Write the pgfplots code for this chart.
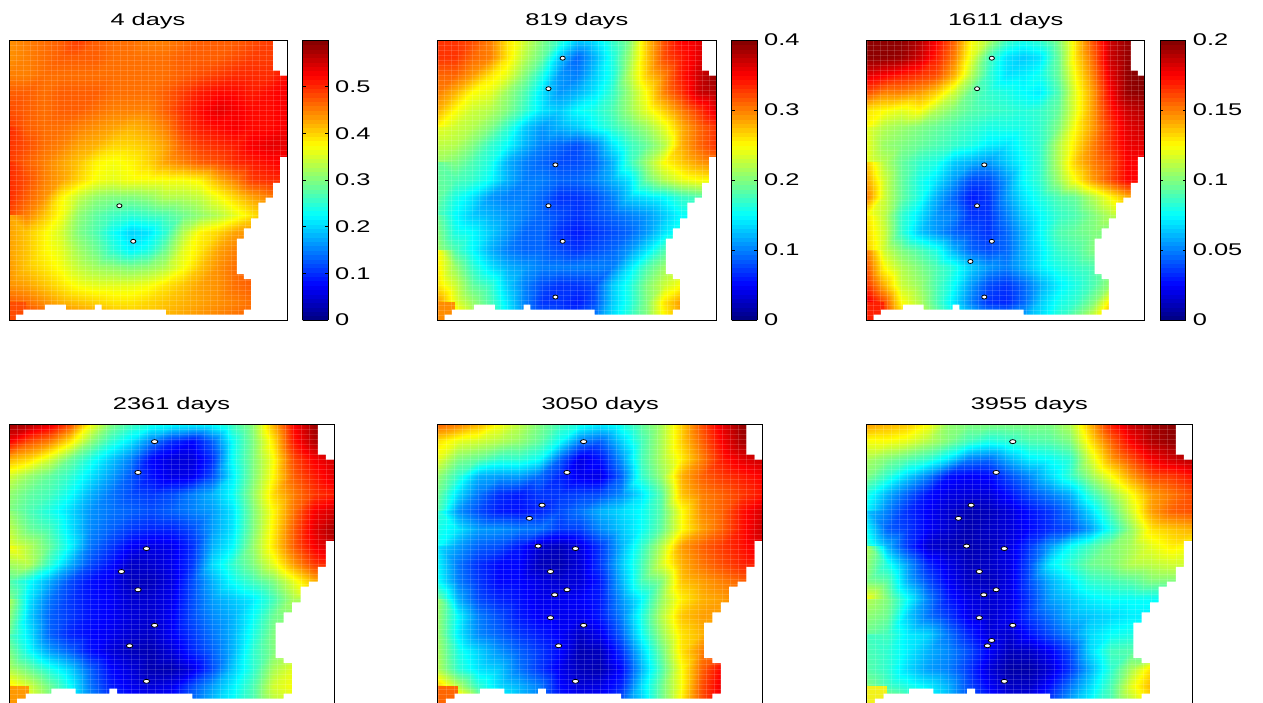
\documentclass[border=0pt]{standalone}
\usepackage{pgfplots}
\usepackage{pgfplotstable}
\usepackage{fontspec}
\setmainfont{Liberation Sans}[FakeStretch=1.5]
\pgfplotsset{compat=1.18}
\pgfplotsset{colormap={myjet}{rgb(0cm)=(0,0,.5); rgb(1cm)=(0,0,1); rgb(3cm)=(0,1,1); rgb(5cm)=(1,1,0); rgb(7cm)=(1,0,0); rgb(8cm)=(.5,0,0)}}
\newcommand\lab{\fontsize{17}{20}\selectfont}
\pgfplotstableread[row sep=\\,header=false]{
44\\45\\46\\47\\49\\47\\46\\46\\45\\45\\46\\47\\47\\47\\48\\49\\49\\
44\\45\\46\\47\\47\\47\\46\\46\\46\\46\\47\\47\\47\\48\\49\\49\\50\\
45\\45\\46\\46\\46\\46\\46\\46\\46\\46\\47\\48\\49\\50\\50\\50\\52\\
47\\47\\46\\47\\47\\47\\46\\46\\46\\47\\49\\51\\52\\52\\51\\52\\53\\
48\\47\\46\\47\\47\\46\\45\\45\\45\\47\\50\\52\\54\\53\\52\\52\\53\\
49\\47\\46\\46\\45\\44\\43\\42\\43\\45\\49\\51\\52\\53\\52\\52\\53\\
50\\48\\46\\45\\43\\42\\40\\40\\41\\43\\47\\49\\50\\51\\53\\54\\54\\
49\\47\\45\\43\\41\\38\\37\\38\\40\\43\\45\\47\\48\\50\\51\\52\\53\\
50\\48\\45\\43\\40\\37\\36\\37\\37\\37\\37\\38\\42\\45\\49\\50\\50\\
50\\47\\44\\38\\34\\31\\30\\30\\31\\33\\33\\34\\37\\40\\43\\45\\46\\
48\\45\\41\\37\\31\\28\\26\\25\\26\\27\\29\\31\\33\\36\\39\\42\\44\\
43\\41\\38\\35\\30\\27\\23\\20\\21\\25\\33\\38\\40\\43\\44\\44\\44\\
43\\41\\38\\36\\32\\29\\25\\22\\24\\29\\36\\39\\43\\45\\45\\45\\45\\
43\\41\\39\\37\\34\\32\\31\\30\\31\\33\\37\\41\\44\\46\\47\\47\\47\\
44\\43\\41\\39\\37\\36\\36\\36\\37\\39\\41\\43\\44\\46\\47\\47\\47\\
47\\46\\44\\42\\41\\40\\39\\39\\40\\41\\42\\43\\44\\45\\46\\46\\46\\
52\\50\\48\\46\\45\\44\\42\\41\\41\\42\\43\\44\\45\\46\\46\\46\\46\\
}\PA
\pgfplotstableread[row sep=\\,header=false]{
33\\33\\32\\30\\26\\23\\20\\17\\13\\14\\17\\20\\27\\32\\35\\36\\37\\
33\\33\\31\\30\\26\\22\\19\\13\\9\\12\\16\\21\\27\\32\\34\\36\\37\\
31\\31\\29\\26\\24\\20\\16\\11\\10\\13\\16\\22\\27\\30\\34\\37\\39\\
30\\28\\25\\24\\21\\18\\14\\11\\12\\14\\17\\21\\25\\30\\33\\37\\38\\
28\\25\\23\\22\\20\\17\\14\\13\\15\\16\\18\\21\\24\\27\\30\\33\\36\\
25\\23\\22\\20\\17\\13\\11\\12\\13\\15\\17\\19\\21\\24\\28\\31\\33\\
24\\22\\20\\17\\15\\12\\10\\9\\8\\10\\14\\17\\19\\22\\28\\31\\33\\
21\\20\\18\\16\\12\\10\\9\\8\\8\\9\\12\\17\\21\\25\\27\\29\\30\\
19\\18\\17\\15\\12\\10\\10\\9\\9\\10\\12\\14\\19\\22\\24\\25\\25\\
19\\16\\14\\11\\10\\10\\9\\7\\7\\8\\10\\13\\14\\15\\17\\18\\18\\
18\\15\\13\\12\\11\\10\\9\\8\\7\\8\\9\\10\\11\\13\\15\\15\\15\\
19\\16\\15\\13\\11\\9\\9\\7\\6\\7\\8\\9\\11\\14\\16\\16\\16\\
21\\18\\15\\12\\10\\9\\9\\8\\7\\8\\9\\11\\14\\18\\20\\20\\20\\
25\\21\\17\\14\\12\\11\\10\\10\\10\\10\\10\\14\\18\\21\\23\\23\\23\\
26\\23\\19\\17\\13\\10\\8\\7\\7\\8\\13\\16\\20\\23\\25\\26\\26\\
29\\24\\21\\18\\14\\10\\7\\7\\6\\8\\13\\16\\20\\26\\29\\29\\29\\
31\\27\\23\\19\\15\\11\\9\\8\\8\\10\\14\\17\\20\\25\\29\\30\\30\\
}\PB
\pgfplotstableread[row sep=\\,header=false]{
197\\197\\197\\190\\175\\155\\125\\110\\88\\80\\85\\100\\130\\160\\185\\195\\200\\
197\\197\\195\\185\\170\\150\\120\\90\\70\\65\\70\\95\\130\\155\\185\\195\\200\\
180\\175\\170\\165\\160\\140\\110\\85\\70\\72\\78\\95\\125\\150\\180\\196\\200\\
160\\150\\150\\145\\135\\115\\95\\85\\80\\75\\72\\90\\120\\145\\175\\195\\198\\
130\\125\\120\\125\\110\\100\\92\\88\\85\\82\\85\\95\\120\\145\\170\\185\\190\\
125\\110\\105\\100\\95\\90\\85\\80\\80\\80\\85\\100\\125\\145\\165\\180\\185\\
120\\105\\100\\95\\90\\85\\80\\72\\70\\78\\85\\110\\130\\150\\165\\178\\180\\
120\\110\\95\\85\\80\\65\\60\\55\\65\\75\\85\\110\\135\\150\\160\\175\\175\\
135\\115\\95\\80\\70\\55\\40\\40\\55\\75\\85\\105\\125\\145\\160\\175\\175\\
150\\115\\95\\80\\60\\45\\30\\35\\55\\70\\80\\90\\95\\110\\125\\140\\150\\
125\\112\\85\\70\\55\\50\\35\\35\\50\\65\\75\\85\\90\\100\\110\\115\\115\\
130\\115\\85\\65\\55\\45\\40\\35\\45\\60\\75\\90\\95\\100\\100\\100\\100\\
135\\115\\100\\90\\80\\60\\45\\40\\45\\60\\72\\85\\90\\100\\105\\105\\105\\
150\\125\\110\\100\\90\\80\\65\\55\\50\\60\\72\\80\\85\\90\\100\\105\\105\\
165\\140\\115\\105\\90\\75\\55\\40\\35\\45\\60\\72\\80\\90\\105\\110\\110\\
180\\160\\125\\110\\90\\70\\50\\35\\32\\45\\65\\78\\85\\100\\130\\135\\135\\
190\\170\\140\\120\\100\\85\\70\\60\\55\\60\\70\\85\\100\\120\\150\\150\\150\\
}\PC
\pgfplotstableread[row sep=\\,header=false]{
97\\95\\90\\80\\62\\50\\44\\40\\38\\37\\38\\44\\52\\70\\87\\97\\98\\
88\\80\\75\\65\\52\\42\\35\\25\\17\\13\\22\\38\\50\\65\\85\\95\\97\\
70\\66\\58\\48\\40\\32\\25\\13\\9\\9\\17\\38\\50\\62\\80\\88\\92\\
58\\52\\47\\42\\35\\28\\21\\14\\10\\11\\20\\36\\50\\63\\78\\85\\90\\
52\\47\\44\\38\\30\\24\\20\\18\\20\\25\\30\\38\\52\\66\\75\\82\\85\\
50\\45\\40\\34\\27\\24\\22\\20\\22\\25\\28\\35\\50\\63\\76\\88\\92\\
52\\48\\44\\35\\26\\22\\18\\16\\16\\20\\28\\35\\50\\64\\78\\90\\96\\
60\\55\\47\\37\\24\\18\\12\\10\\11\\17\\30\\37\\52\\65\\78\\88\\93\\
62\\55\\42\\30\\20\\14\\7\\8\\11\\18\\34\\42\\50\\60\\72\\82\\85\\
46\\38\\29\\20\\14\\11\\6\\6\\10\\20\\30\\38\\44\\50\\60\\70\\70\\
50\\35\\24\\18\\14\\12\\8\\8\\11\\20\\28\\32\\36\\44\\54\\54\\54\\
55\\33\\22\\18\\14\\12\\9\\8\\12\\20\\26\\30\\38\\48\\52\\52\\52\\
48\\35\\22\\16\\13\\11\\8\\7\\12\\18\\24\\30\\40\\50\\52\\52\\52\\
45\\38\\28\\22\\14\\9\\6\\5\\9\\16\\22\\30\\42\\50\\55\\55\\55\\
55\\48\\40\\33\\22\\13\\9\\5\\5\\10\\20\\32\\42\\54\\60\\60\\60\\
65\\58\\48\\38\\24\\15\\11\\9\\11\\20\\28\\36\\45\\58\\62\\62\\62\\
75\\62\\50\\40\\28\\20\\14\\12\\14\\24\\32\\38\\45\\55\\60\\60\\60\\
}\PD
\pgfplotstableread[row sep=\\,header=false]{
78\\75\\70\\62\\56\\50\\44\\40\\36\\40\\47\\54\\67\\80\\90\\98\\99\\
65\\60\\58\\55\\52\\47\\38\\25\\22\\33\\44\\54\\67\\78\\88\\96\\98\\
60\\50\\47\\42\\42\\38\\22\\10\\14\\27\\44\\54\\64\\75\\85\\90\\93\\
52\\42\\30\\28\\28\\23\\16\\11\\10\\22\\42\\52\\70\\78\\82\\85\\88\\
48\\34\\24\\17\\15\\18\\18\\19\\20\\26\\35\\46\\68\\75\\78\\82\\86\\
45\\27\\20\\15\\14\\16\\20\\24\\30\\34\\38\\46\\62\\74\\78\\86\\92\\
42\\35\\28\\27\\25\\24\\18\\19\\26\\32\\38\\47\\62\\72\\78\\86\\93\\
38\\28\\22\\20\\15\\8\\6\\10\\18\\30\\42\\55\\72\\78\\82\\86\\90\\
35\\24\\17\\13\\13\\6\\5\\9\\18\\32\\44\\58\\70\\76\\80\\84\\85\\
38\\25\\18\\13\\13\\10\\8\\9\\15\\30\\44\\50\\68\\72\\75\\78\\78\\
48\\30\\20\\16\\14\\11\\11\\12\\15\\27\\37\\52\\64\\70\\72\\75\\75\\
52\\37\\25\\20\\15\\12\\11\\11\\15\\25\\40\\55\\68\\72\\72\\72\\72\\
52\\36\\26\\22\\18\\15\\12\\7\\11\\22\\38\\52\\65\\70\\70\\70\\70\\
52\\40\\33\\27\\22\\18\\13\\5\\6\\17\\33\\48\\65\\75\\80\\80\\80\\
55\\42\\35\\32\\24\\18\\11\\6\\5\\13\\30\\45\\62\\78\\88\\88\\88\\
68\\55\\42\\34\\30\\25\\13\\9\\10\\16\\34\\48\\62\\80\\90\\90\\90\\
82\\75\\55\\40\\32\\25\\16\\12\\14\\22\\33\\48\\64\\80\\88\\88\\88\\
}\PE
\pgfplotstableread[row sep=\\,header=false]{
72\\70\\68\\62\\52\\50\\50\\50\\50\\50\\55\\70\\85\\93\\97\\99\\99\\
62\\62\\60\\55\\50\\44\\40\\42\\45\\46\\50\\65\\78\\88\\95\\98\\99\\
54\\50\\46\\42\\35\\25\\23\\30\\36\\38\\42\\58\\72\\80\\88\\92\\95\\
50\\42\\33\\25\\14\\12\\13\\20\\26\\34\\42\\52\\62\\72\\80\\82\\86\\
40\\30\\22\\14\\10\\9\\9\\14\\20\\25\\30\\42\\52\\62\\72\\76\\80\\
36\\25\\17\\12\\8\\5\\6\\9\\14\\18\\24\\34\\46\\58\\72\\78\\80\\
32\\22\\18\\12\\8\\5\\7\\9\\13\\17\\20\\28\\40\\52\\65\\68\\70\\
42\\30\\18\\8\\6\\5\\6\\10\\18\\28\\38\\44\\50\\54\\60\\64\\62\\
54\\40\\28\\16\\10\\6\\7\\10\\20\\36\\42\\48\\50\\55\\56\\58\\58\\
50\\46\\30\\20\\12\\7\\6\\10\\20\\30\\36\\42\\44\\46\\50\\50\\50\\
62\\50\\38\\25\\15\\10\\8\\10\\18\\28\\32\\36\\38\\38\\38\\38\\38\\
55\\48\\33\\24\\18\\11\\8\\11\\18\\24\\30\\32\\34\\36\\36\\36\\36\\
48\\44\\36\\33\\24\\16\\9\\8\\14\\20\\26\\34\\38\\40\\40\\40\\40\\
44\\42\\36\\30\\26\\20\\12\\6\\7\\12\\20\\34\\44\\46\\46\\46\\46\\
46\\42\\34\\28\\25\\18\\9\\4\\4\\9\\18\\30\\42\\54\\66\\66\\66\\
50\\44\\40\\36\\30\\20\\12\\7\\7\\14\\24\\34\\45\\60\\70\\70\\70\\
62\\55\\48\\40\\32\\24\\16\\10\\12\\20\\30\\38\\45\\55\\65\\65\\65\\
}\PF
\pgfplotsset{hm/.style={scale only axis, axis on top, height=280bp, xmin=0,xmax=1,ymin=0,ymax=1,
  xtick distance=0.025, ytick distance=0.017857, xticklabel=\empty, yticklabel=\empty, major tick length=0pt,
  grid=major, grid style={white, opacity=0.14, line width=0.4bp},
  colormap name=myjet, point meta min=0, anchor=south west,
  title style={font=\lab, at={(0.5,1)}, anchor=south, yshift=1.5bp}, axis line style={line width=0.9bp, black}},
  cb/.style={colorbar sampled, colorbar style={samples=65, at={(parent axis.south east)}, anchor=south west, xshift=7bp,
    width=25.5bp, height=280bp, scale only axis, grid=none, xtick=\empty, ytick={#1}, ytick pos=both, yticklabel pos=right, tick align=inside,
    major tick length=3bp, tick style={black, line width=0.7bp}, axis line style={line width=0.9bp, black},
    yticklabel style={font=\lab, xshift=7bp, inner sep=0pt, anchor=west}}}}
\newcommand\heat[3]{\addplot[surf,shader=interp,mesh/cols=17,point meta={\thisrowno{0}*#2}]
  table[x index=0, y index=0, x expr={mod(\coordindex,17)/16}, y expr={1-floor(\coordindex/17)/16}] {#1};
  \addplot[fill={#3},draw=none] coordinates {(0,0)(.0625,0)(.0625,.0625)(0,.0625)} -- cycle;}
\newcommand\mask{%
  \addplot[fill=white,draw=none] coordinates {(.95,1.01)(1.01,1.01)(1.01,.873)(.975,.873)(.975,.891)(.95,.891)} -- cycle;
  \addplot[fill=white,draw=none] coordinates {(1.01,.582)(.975,.582)(.975,.490)(.950,.490)(.950,.437)(.923,.437)(.923,.419)(.897,.419)(.897,.363)(.871,.363)(.871,.327)(.845,.327)(.845,.291)(.820,.291)(.820,.164)(.845,.164)(.845,.146)(.871,.146)(.871,.037)(.845,.037)(.845,.019)(.564,.019)(.564,.037)(.333,.037)(.333,.055)(.309,.055)(.309,.037)(.205,.037)(.205,.055)(.130,.055)(.130,.037)(.052,.037)(.052,.019)(.025,.019)(.025,-.01)(1.01,-.01)} -- cycle;}
\newcommand\wells[2]{\addplot[only marks, mark=*, mark size=2bp, mark options={xscale=#1, fill=white, draw=black, line width=0.8bp}] coordinates {#2};}
\definecolor{ca}{rgb}{1,.3,0}
\definecolor{cb}{rgb}{1,.55,0}
\definecolor{cc}{rgb}{1,.12,0}
\definecolor{cd}{rgb}{1,.6,0}
\definecolor{ce}{rgb}{1,.4,0}
\definecolor{cf}{rgb}{.95,.95,.1}
\begin{document}
\begin{tikzpicture}[x=1bp,y=1bp]
\useasboundingbox (0,0) rectangle (1263,703);
\begin{axis}[hm, cb={0,0.1,0.2,0.3,0.4,0.5}, at={(9bp,383bp)}, width=278bp, point meta max=0.6,
  colorbar style={yticklabels={0,0.1,0.2,0.3,0.4,0.5}}, title={4 days}]
\heat{\PA}{0.01}{ca}\mask
\wells{1.3}{(.397,.408)(.447,.281)}
\end{axis}
\begin{axis}[hm, cb={0,0.1,0.2,0.3,0.4}, at={(437.7bp,383bp)}, width=278.3bp, point meta max=0.4,
  colorbar style={yticklabels={0,0.1,0.2,0.3,0.4}}, title={819 days}]
\heat{\PB}{0.01}{cb}\mask
\wells{1.3}{(.449,.935)(.398,.826)(.423,.554)(.398,.408)(.449,.281)(.423,.082)}
\end{axis}
\begin{axis}[hm, cb={0,0.05,0.1,0.15,0.2}, at={(866.7bp,383bp)}, width=278bp, point meta max=0.2,
  colorbar style={yticklabels={0,0.05,0.1,0.15,0.2}}, title={1611 days}]
\heat{\PC}{0.001}{cc}\mask
\wells{1.3}{(.450,.935)(.397,.826)(.423,.554)(.397,.408)(.450,.281)(.373,.209)(.423,.082)}
\end{axis}
\begin{axis}[hm, at={(9bp,-1bp)}, width=325bp, point meta max=1, title={2361 days}]
\heat{\PD}{0.01}{cd}\mask
\wells{1.6}{(.448,.937)(.397,.827)(.423,.555)(.346,.473)(.397,.408)(.448,.281)(.371,.208)(.423,.081)}
\end{axis}
\begin{axis}[hm, at={(437.7bp,-1bp)}, width=325bp, point meta max=1, title={3050 days}]
\heat{\PE}{0.01}{ce}\mask
\wells{1.6}{(.449,.937)(.398,.827)(.321,.710)(.282,.663)(.309,.564)(.424,.555)(.347,.473)(.398,.408)(.360,.390)(.347,.308)(.449,.281)(.372,.208)(.424,.081)}
\end{axis}
\begin{axis}[hm, at={(866.7bp,-1bp)}, width=325.3bp, point meta max=1, title={3955 days}]
\heat{\PF}{0.01}{cf}\mask
\wells{1.6}{(.449,.937)(.398,.827)(.321,.710)(.282,.663)(.307,.564)(.423,.555)(.346,.473)(.398,.408)(.360,.390)(.346,.308)(.449,.281)(.384,.227)(.371,.208)(.423,.081)}
\end{axis}
\end{tikzpicture}
\end{document}
